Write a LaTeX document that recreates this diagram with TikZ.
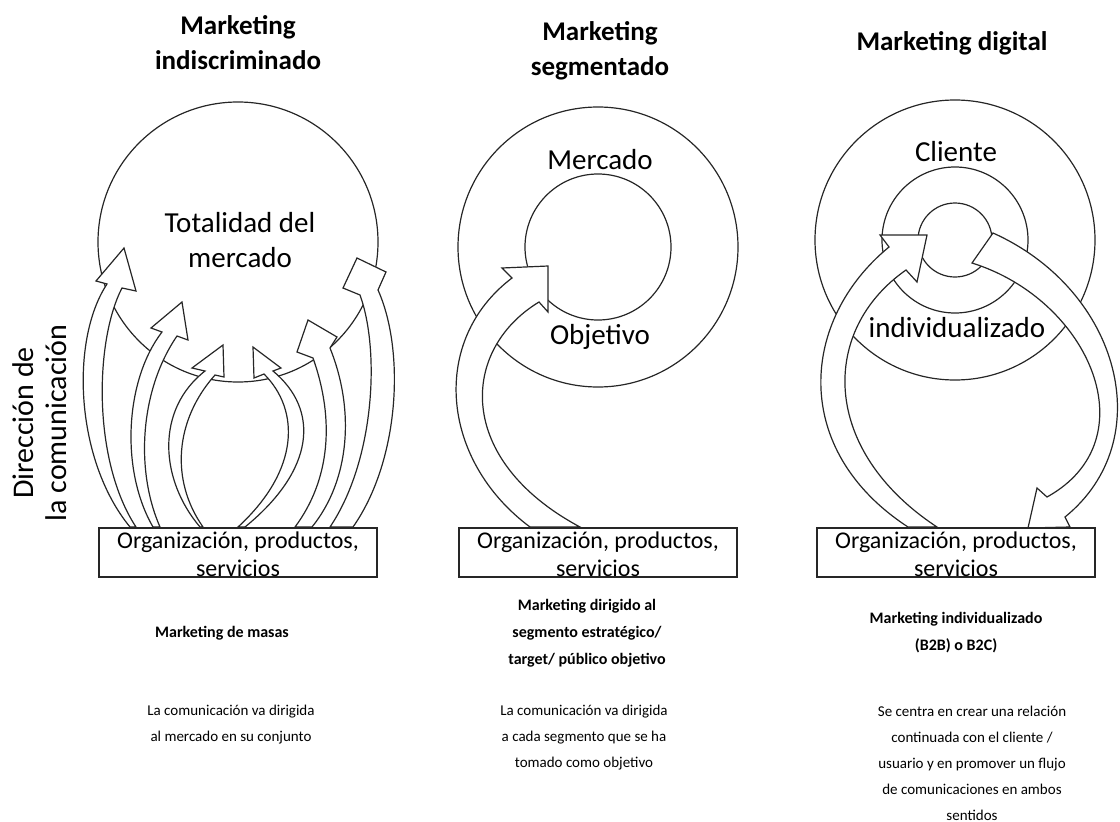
\documentclass[tikz,border=0pt]{standalone}
\usepackage{fontspec}
\setmainfont{Carlito}

\begin{document}
\begin{tikzpicture}[x=1pt,y=-1pt,
	ln/.style={draw=black!85, line width=1.2pt},
	blockarrow/.style={ln, fill=white, line join=miter},
	ttl/.style={font=\fontsize{27}{35}\selectfont\bfseries, align=center},
	inring/.style={font=\fontsize{29}{35}\selectfont, align=center},
	boxtext/.style={font=\fontsize{24}{28}\selectfont, align=center, inner sep=0pt},
	subttl/.style={font=\fontsize{16}{27}\selectfont\bfseries, align=center},
	desc/.style={font=\fontsize{15}{26}\selectfont, align=center}]
	\def\r{140}	%radius of outer circles
	\def\m{73}	%radius of middle circles
	\useasboundingbox (0,0) rectangle (1120,822);

	%circles
	\draw[ln] (238,242) circle (\r);
	\draw[ln] (598,247) circle (\r);
	\draw[ln] (598,247) circle (\m);
	\draw[ln] (955,240) circle (\r);
	\draw[ln] (955,240) circle (\m);
	\draw[ln] (955,240) circle (37);

	%arrows, left column (masas)
	\draw[blockarrow] (130,527) .. controls (75,460) and (70,340) .. (107,284) -- (96,281) -- (124,248) -- (136,291) -- (122,288) .. controls (95,340) and (92,460) .. (136,527) -- cycle;
	\draw[blockarrow] (153,527) .. controls (120,470) and (125,380) .. (162,332) -- (151,328) -- (182,302) -- (188,340) -- (177,336) .. controls (140,390) and (135,470) .. (160,527) -- cycle;
	\draw[blockarrow] (200,527) .. controls (160,480) and (155,410) .. (205,371) -- (192,368) -- (223,345) -- (224,377) -- (215,375) .. controls (175,420) and (170,480) .. (203,527) -- cycle;
	\draw[blockarrow] (238,527) .. controls (300,470) and (300,410) .. (264,374) -- (254,378) -- (253,347) -- (281,368) -- (273,371) .. controls (320,410) and (315,470) .. (245,527) -- cycle;
	\draw[blockarrow] (295,527) .. controls (330,480) and (335,420) .. (313,358) -- (297,352) -- (308,320) -- (337,337) -- (330,348) .. controls (355,410) and (350,480) .. (312,527) -- cycle;
	\draw[blockarrow] (330,527) .. controls (375,460) and (380,350) .. (360,295) -- (343,288) -- (357,258) -- (386,272) -- (378,290) .. controls (405,350) and (400,460) .. (353,527) -- cycle;

	%arrow, middle column (segmento)
	\draw[blockarrow] (530,527) .. controls (440,460) and (430,340) .. (512,278) -- (502,268) -- (548,266) -- (548,312) -- (539,302) .. controls (460,350) and (455,460) .. (580,527) -- cycle;

	%arrows, right column (cliente): up and back down
	\draw[blockarrow] (908,527) .. controls (790,450) and (800,320) .. (889,247) -- (880,235) -- (927,235) -- (917,282) -- (906,270) .. controls (820,330) and (820,450) .. (937,527) -- cycle;
	\draw[blockarrow] (972,263) -- (993,233) .. controls (1120,290) and (1160,440) .. (1065,517) -- (1070,527) -- (1028,528) -- (1037,488) -- (1047,497) .. controls (1150,440) and (1090,300) .. (972,263) -- cycle;

	%boxes
	\foreach \cx/\nm in {238/a, 598/b, 956/c}{
		\draw[ln] (\cx-139,528) rectangle (\cx+139,577);
		\node[boxtext] (org\nm) at (\cx,554) {Organización, productos,\\servicios};
	}

	%titles
	\node[ttl] (ttla) at (238,43) {Marketing\\indiscriminado};
	\node[ttl] (ttlb) at (600,51) {Marketing\\segmentado};
	\node[ttl] (ttlc) at (952,43) {Marketing digital};

	%labels in circles
	\node[inring] (total) at (240,240) {Totalidad del\\mercado};
	\node[inring] (mercado) at (600,160) {Mercado};
	\node[inring] (objetivo) at (600,337) {Objetivo};
	\node[inring] (cliente) at (956,152) {Cliente};
	\node[inring] (indiv) at (957,328) {individualizado};

	\node[inring, rotate=90, font=\fontsize{30}{33}\selectfont] (direccion) at (40,423) {Dirección de\\la comunicación};

	%texts below
	\node[subttl] (suba) at (222,633) {Marketing de masas};
	\node[subttl] (subb) at (587,633) {Marketing dirigido al\\segmento estratégico/\\target/ público objetivo};
	\node[subttl] (subc) at (956,633) {Marketing individualizado\\(B2B) o B2C)};
	\node[desc] (desca) at (231,725) {La comunicación va dirigida\\al mercado en su conjunto};
	\node[desc] (descb) at (584,738) {La comunicación va dirigida\\a cada segmento que se ha\\tomado como objetivo};
	\node[desc] (descc) at (972,763) {Se centra en crear una relación\\continuada con el cliente /\\usuario y en promover un flujo\\de comunicaciones en ambos\\sentidos};
\end{tikzpicture}
\end{document}
